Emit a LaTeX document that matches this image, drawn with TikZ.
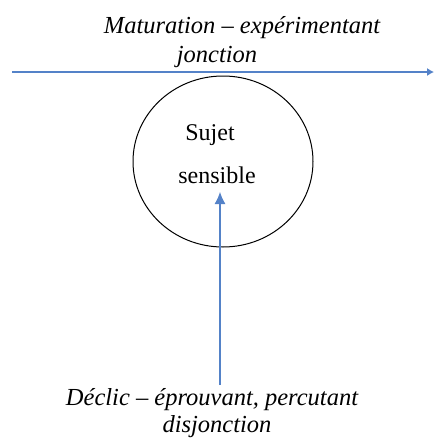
\documentclass[tikz,border=0pt]{standalone}
\usepackage{fontspec}
\setmainfont{Liberation Serif}
\usetikzlibrary{arrows.meta,shapes.geometric}
\definecolor{lineblue}{RGB}{84,130,200}
\tikzset{
  lbl/.style={font=\itshape\fontsize{24.5}{28}\selectfont, inner sep=0pt, anchor=base},
  inlbl/.style={font=\fontsize{24}{28}\selectfont, inner sep=0pt, anchor=base},
  conn/.style={draw=lineblue, line width=1.1pt},
  tipbig/.style={-{Latex[length=12pt,width=11pt]}},
  tipsmall/.style={-{Latex[length=7pt,width=8pt]}},
}
\begin{document}
\begin{tikzpicture}[x=1pt,y=-1pt]
\useasboundingbox (0,0) rectangle (434,439);
\node[lbl] (t1) at (242,33) {Maturation -- expérimentant};
\node[lbl] (t2) at (217,62) {jonction};
\coordinate (hl) at (12,72);
\coordinate (hr) at (434,72);
\draw[conn,tipsmall] (hl) -- (hr);
\coordinate (c) at (223,161.5);
\draw[black, line width=1pt] (c) ellipse [x radius=90, y radius=85.5];
\node[inlbl] (s1) at (210,140) {Sujet};
\node[inlbl] (s2) at (217,183) {sensible};
\coordinate (vb) at (220,385);
\coordinate (vt) at (220,192);
\draw[conn,tipbig] (vb) -- (vt);
\node[lbl] (b1) at (212,405) {Déclic -- éprouvant, percutant};
\node[lbl] (b2) at (217,432) {disjonction};
\end{tikzpicture}
\end{document}
